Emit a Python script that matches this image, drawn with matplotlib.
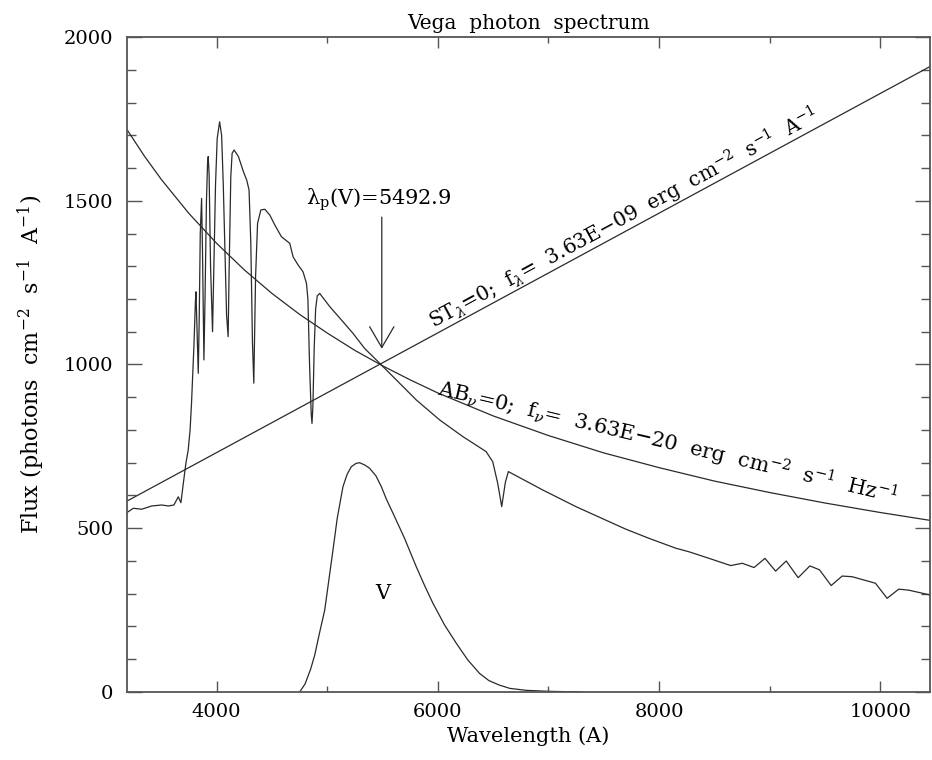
import matplotlib
matplotlib.use("Agg")
import matplotlib.pyplot as plt
from matplotlib.ticker import MultipleLocator

plt.rcParams['font.family'] = 'DejaVu Serif'
plt.rcParams['mathtext.fontset'] = 'dejavuserif'

# Vega photon spectrum (A, photons cm-2 s-1 A-1)
vega_wave = [3190, 3247, 3322, 3413, 3503, 3563, 3614, 3653, 3677, 3700, 3722, 3743,
             3760, 3773, 3795, 3808, 3813, 3820, 3834, 3843, 3852, 3864, 3872, 3885,
             3895, 3908, 3918, 3924, 3932, 3945, 3963, 3975, 3990, 4005, 4027, 4045,
             4060, 4075, 4090, 4104, 4112, 4128, 4140, 4158, 4197, 4242, 4272, 4293,
             4309, 4324, 4336, 4352, 4370, 4400, 4436, 4481, 4511, 4526, 4586, 4661,
             4691, 4736, 4781, 4812, 4825, 4840, 4855, 4862, 4870, 4882, 4895, 4910,
             4932, 5022, 5128, 5233, 5338, 5473, 5624, 5804, 6015, 6225, 6436, 6496,
             6541, 6577, 6610, 6637, 6947, 7248, 7549, 7700, 7910, 8151, 8271, 8452,
             8647, 8752, 8858, 8957, 9053, 9149, 9257, 9363, 9450, 9555, 9655, 9745,
             9956, 10061, 10166, 10256, 10452]
vega_flux = [548, 561, 558, 568, 571, 568, 571, 596, 578, 640, 698, 739,
             800, 882, 1060, 1190, 1222, 1140, 973, 1150, 1400, 1507, 1350, 1014,
             1200, 1500, 1615, 1635, 1580, 1300, 1100, 1300, 1550, 1690, 1741, 1700,
             1550, 1350, 1150, 1085, 1268, 1573, 1645, 1655, 1635, 1589, 1563, 1533,
             1370, 1065, 943, 1268, 1431, 1472, 1474, 1456, 1436, 1426, 1390, 1370,
             1329, 1304, 1283, 1248, 1200, 1000, 850, 820, 870, 1050, 1170, 1210,
             1217, 1177, 1136, 1095, 1049, 1004, 953, 892, 831, 780, 734, 703,
             637, 566, 640, 673, 617, 566, 520, 497, 469, 439, 428, 408,
             386, 393, 380, 408, 369, 400, 349, 385, 373, 325, 354, 352,
             332, 286, 314, 311, 296]

# V band throughput (scaled)
v_wave = [4751, 4800, 4850, 4887, 4930, 4977, 5052, 5090, 5142, 5180, 5218, 5260,
          5293, 5340, 5383, 5440, 5489, 5533, 5594, 5699, 5804, 5880, 5955, 6060,
          6166, 6270, 6376, 6460, 6556, 6650, 6800, 7000, 7300]
v_flux = [0, 25, 70, 113, 180, 250, 434, 530, 627, 665, 688, 698,
          700, 693, 683, 660, 627, 590, 546, 469, 383, 325, 271, 205,
          149, 98, 57, 35, 21, 11, 5, 2, 0]

# ST=0 reference (straight line) and AB=0 reference curve
st_wave = [3190, 10450]
st_flux = [583, 1910]
ab_wave = [3190, 3350, 3500, 3750, 4000, 4250, 4500, 4750, 5000, 5250, 5500, 5750, 6000,
           6500, 7000, 7500, 8000, 8500, 9000, 9500, 10000, 10450]
ab_flux = [1717, 1635, 1565, 1461, 1370, 1289, 1217, 1153, 1096, 1043, 996, 953, 913,
           843, 783, 730, 685, 644, 609, 577, 548, 524]

lam_pivot = 5492.9

fig = plt.figure(figsize=(9.32, 7.60), dpi=100)
ax = fig.add_axes([0.1363, 0.0895, 0.8617, 0.8618])

lc = '#2a2a2a'
ax.plot(vega_wave, vega_flux, color=lc, lw=0.9)
ax.plot(v_wave, v_flux, color=lc, lw=0.9)
ax.plot(st_wave, st_flux, color=lc, lw=0.9)
ax.plot(ab_wave, ab_flux, color=lc, lw=0.9)

ax.annotate('', xy=(lam_pivot, 1048), xytext=(lam_pivot, 1450),
            arrowprops=dict(arrowstyle='->,head_length=0.6,head_width=0.35',
                            color=lc, lw=0.9, mutation_scale=25,
                            shrinkA=0, shrinkB=0))
ax.text(5470, 1502, 'λ$_\\mathrm{p}$(V)=5492.9', ha='center', va='center', fontsize=15)
ax.text(5500, 300, 'V', ha='center', va='center', fontsize=15)

ax.text(5960, 1108, r'ST$_\lambda$=0;  f$_\lambda$=  3.63E$-$09  erg  cm$^{-2}$  s$^{-1}$  A$^{-1}$',
        rotation=28.4, rotation_mode='anchor', ha='left', va='baseline', fontsize=14.5)
ax.text(5990, 905, r'AB$_\nu$=0;  f$_\nu$=  3.63E$-$20  erg  cm$^{-2}$  s$^{-1}$  Hz$^{-1}$',
        rotation=-13.3, rotation_mode='anchor', ha='left', va='baseline', fontsize=15)

ax.set_xlim(3190, 10450)
ax.set_ylim(0, 2000)
ax.xaxis.set_major_locator(MultipleLocator(2000))
ax.xaxis.set_minor_locator(MultipleLocator(1000))
ax.yaxis.set_major_locator(MultipleLocator(500))
ax.yaxis.set_minor_locator(MultipleLocator(100))
ax.tick_params(axis='both', which='both', direction='in', top=True, right=True,
               color='#555555', labelsize=14, width=1.0)
ax.tick_params(axis='x', which='major', length=8, pad=8)
ax.tick_params(axis='x', which='minor', length=4.5)
ax.tick_params(axis='y', which='major', length=11, pad=10)
ax.tick_params(axis='y', which='minor', length=6.5)
for s in ax.spines.values():
    s.set_color('#555555')
    s.set_linewidth(1.3)

ax.set_title('Vega  photon  spectrum', fontsize=14.5, pad=6)
ax.set_xlabel('Wavelength (A)', fontsize=15, labelpad=4)
ax.set_ylabel(r'Flux (photons  cm$^{-2}$  s$^{-1}$  A$^{-1}$)', fontsize=16, labelpad=12)

fig.savefig('out.png', dpi=100)
